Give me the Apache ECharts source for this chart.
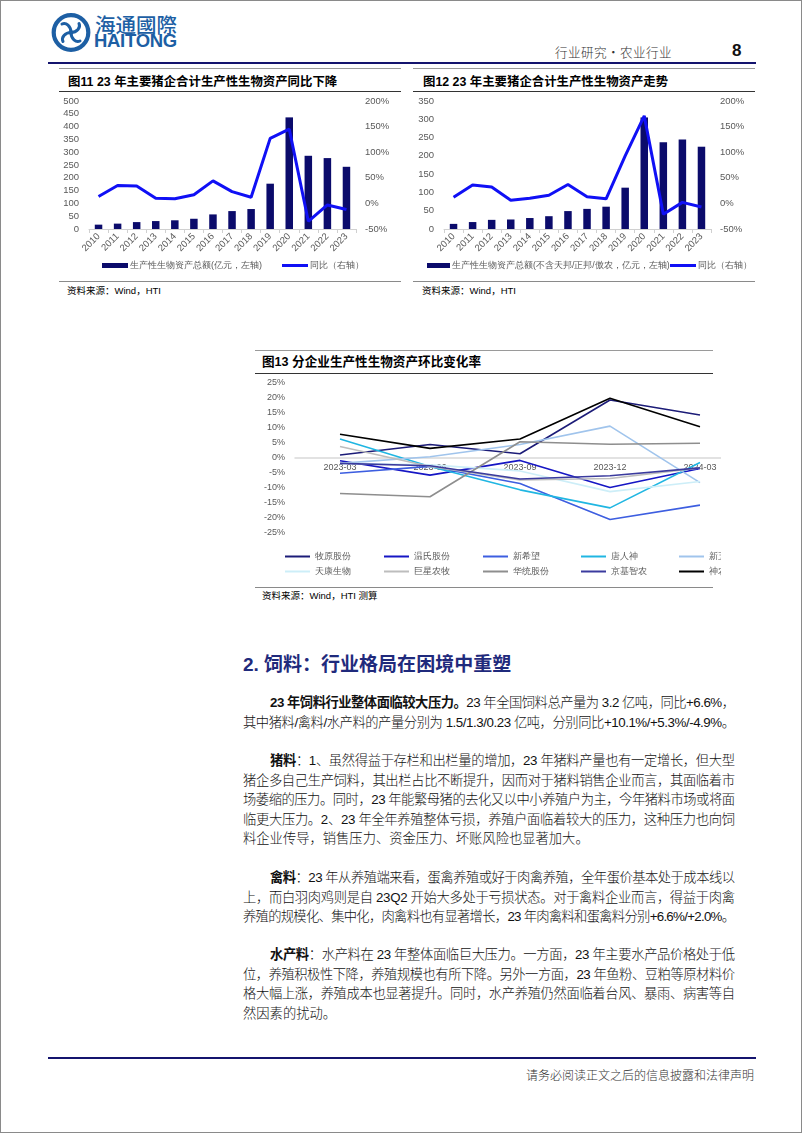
<!DOCTYPE html>
<html><head><meta charset="utf-8">
<script src="https://cdn.jsdelivr.net/npm/echarts@6/dist/echarts.min.js"></script>
<style>
body{margin:0;background:#fff;}
#page{position:relative;width:802px;height:1133px;overflow:hidden;background:#fff;font-family:"Noto Sans CJK SC",sans-serif;}
.abs{position:absolute;}
.frame{position:absolute;left:0;top:0;right:0;bottom:0;border:1px solid #8a8a8a;pointer-events:none;}
.hl{position:absolute;height:0;}
.title{position:absolute;font-weight:bold;font-size:12.4px;color:#000;white-space:nowrap;line-height:14px;font-family:"Liberation Sans","Noto Sans CJK SC",sans-serif;}
.src{position:absolute;font-size:9.5px;color:#000;white-space:nowrap;line-height:12px;font-family:"Liberation Sans","Noto Sans CJK SC",sans-serif;}
.para{position:absolute;left:243px;width:492px;font-size:13.3px;line-height:19.5px;color:#111;font-weight:300;font-family:"Liberation Sans","Noto Sans CJK SC",sans-serif;}
.ln{display:block;white-space:nowrap;height:19.5px;}
.ln.ind{padding-left:27px;}
.ln b{font-weight:bold;}
</style></head>
<body><div id="page">
<!-- header -->
<svg class="abs" style="left:50px;top:11px" width="44" height="44" viewBox="0 0 44 44">
  <circle cx="21" cy="21.5" r="17.3" fill="none" stroke="#1d5fa4" stroke-width="4.2"/>
  <g fill="none" stroke="#1d5fa4" stroke-width="3" stroke-linecap="round">
    <path d="M21 21.5 C21 15 16 11 12 13"/>
    <path d="M21 21.5 C27 21.5 31 16.5 29 12.5"/>
    <path d="M21 21.5 C21 28 26 32 30 30"/>
    <path d="M21 21.5 C15 21.5 11 26.5 13 30.5"/>
  </g>
  <circle cx="21" cy="21.5" r="2.2" fill="#1d5fa4"/>
</svg>
<div class="abs" style="left:95px;top:12px;font-size:20.5px;line-height:24px;color:#1d5fa4;font-weight:500;white-space:nowrap;">海通國際</div>
<div class="abs" style="left:94px;top:30px;font-size:18.5px;line-height:22px;color:#1d5fa4;font-weight:bold;font-family:'Liberation Sans',sans-serif;letter-spacing:-0.3px;">HAITONG</div>
<div class="abs" style="left:555px;top:43px;font-size:12.6px;line-height:17px;color:#333;white-space:nowrap;letter-spacing:0.4px;font-weight:300;">行业研究•农业行业</div>
<div class="abs" style="left:732px;top:41px;font-size:17px;line-height:20px;color:#111;font-weight:bold;font-family:'Liberation Sans',sans-serif;">8</div>
<div class="hl" style="left:48px;top:62px;width:708px;border-top:2.5px solid #14146e;"></div>

<!-- chart 1 frame -->
<div class="hl" style="left:59px;top:67.5px;width:342px;border-top:1px solid #9a9a9a;"></div>
<div class="title" style="left:68px;top:75px;">图11 23 年主要猪企合计生产性生物资产同比下降</div>
<div class="hl" style="left:59px;top:90.5px;width:342px;border-top:1px solid #333;"></div>
<div id="c1" class="abs" style="left:55px;top:92px;width:350px;height:188px;"></div>
<div class="hl" style="left:59px;top:280.5px;width:342px;border-top:1.2px solid #8a8a8a;"></div>
<div class="src" style="left:67px;top:285px;">资料来源：Wind，HTI</div>

<!-- chart 2 frame -->
<div class="hl" style="left:413px;top:67.5px;width:342px;border-top:1px solid #9a9a9a;"></div>
<div class="title" style="left:423px;top:75px;">图12 23 年主要猪企合计生产性生物资产走势</div>
<div class="hl" style="left:413px;top:90.5px;width:342px;border-top:1px solid #333;"></div>
<div id="c2" class="abs" style="left:410px;top:92px;width:350px;height:188px;"></div>
<div class="hl" style="left:413px;top:280.5px;width:342px;border-top:1.2px solid #8a8a8a;"></div>
<div class="src" style="left:422px;top:285px;">资料来源：Wind，HTI</div>

<!-- chart 3 frame -->
<div class="hl" style="left:255px;top:349.5px;width:458px;border-top:1px solid #9a9a9a;"></div>
<div class="title" style="left:262px;top:355px;font-size:12.6px;">图13 分企业生产性生物资产环比变化率</div>
<div class="hl" style="left:255px;top:373px;width:458px;border-top:1px solid #333;"></div>
<div class="abs" style="left:255px;top:374px;width:466px;height:212px;overflow:hidden;">
  <div id="c3" style="position:absolute;left:0;top:0;width:520px;height:212px;"></div>
</div>
<div class="hl" style="left:255px;top:587px;width:458px;border-top:1.2px solid #8a8a8a;"></div>
<div class="src" style="left:262px;top:590px;">资料来源：Wind，HTI 测算</div>

<!-- body text -->
<div class="abs" style="left:243px;top:652px;font-size:19px;line-height:26px;color:#1f2a7c;font-weight:bold;white-space:nowrap;font-family:'Liberation Sans','Noto Sans CJK SC',sans-serif;">2.&nbsp;饲料：行业格局在困境中重塑</div>

<div class="para" style="top:693.25px;">
  <span class="ln ind j"><span><b>23 年饲料行业整体面临较大压力。</b>23 年全国饲料总产量为 3.2 亿吨，同比+6.6%，</span></span>
  <span class="ln j"><span>其中猪料/禽料/水产料的产量分别为 1.5/1.3/0.23 亿吨，分别同比+10.1%/+5.3%/-4.9%。</span></span>
</div>
<div class="para" style="top:751.25px;">
  <span class="ln ind j"><span><b>猪料</b>：1、虽然得益于存栏和出栏量的增加，23 年猪料产量也有一定增长，但大型</span></span>
  <span class="ln j"><span>猪企多自己生产饲料，其出栏占比不断提升，因而对于猪料销售企业而言，其面临着市</span></span>
  <span class="ln j"><span>场萎缩的压力。同时，23 年能繁母猪的去化又以中小养殖户为主，今年猪料市场或将面</span></span>
  <span class="ln j"><span>临更大压力。2、23 年全年养殖整体亏损，养殖户面临着较大的压力，这种压力也向饲</span></span>
  <span class="ln"><span>料企业传导，销售压力、资金压力、坏账风险也显著加大。</span></span>
</div>
<div class="para" style="top:868px;">
  <span class="ln ind j"><span><b>禽料</b>：23 年从养殖端来看，蛋禽养殖或好于肉禽养殖，全年蛋价基本处于成本线以</span></span>
  <span class="ln j"><span>上，而白羽肉鸡则是自 23Q2 开始大多处于亏损状态。对于禽料企业而言，得益于肉禽</span></span>
  <span class="ln j"><span>养殖的规模化、集中化，肉禽料也有显著增长，23 年肉禽料和蛋禽料分别+6.6%/+2.0%。</span></span>
</div>
<div class="para" style="top:945.25px;">
  <span class="ln ind j"><span><b>水产料</b>：水产料在 23 年整体面临巨大压力。一方面，23 年主要水产品价格处于低</span></span>
  <span class="ln j"><span>位，养殖积极性下降，养殖规模也有所下降。另外一方面，23 年鱼粉、豆粕等原材料价</span></span>
  <span class="ln j"><span>格大幅上涨，养殖成本也显著提升。同时，水产养殖仍然面临着台风、暴雨、病害等自</span></span>
  <span class="ln"><span>然因素的扰动。</span></span>
</div>

<!-- footer -->
<div class="hl" style="left:48px;top:1057px;width:708px;border-top:2.5px solid #14146e;"></div>
<div class="abs" style="right:48px;top:1067px;font-size:12px;line-height:16px;color:#333;white-space:nowrap;font-weight:300;">请务必阅读正文之后的信息披露和法律声明</div>
<div class="frame"></div>
</div>

<script>
// ---------- data ----------
const years = ['2010','2011','2012','2013','2014','2015','2016','2017','2018','2019','2020','2021','2022','2023'];
const assets1 = [17, 21, 27, 31, 34, 40, 57, 70, 78, 177, 436, 286, 277, 243];
const yoy1 = [13.6, 35, 34, 10, 9, 17, 44, 23, 12, 127, 145, -35, -3, -12];
const assets2 = [14, 19, 25, 26, 30, 35, 49, 55, 61, 113, 305, 237, 245, 225];
const yoy2 = [12, 36, 32, 6, 10, 16, 37, 13, 9, 93, 171, -21, 2, -7];
const barName1 = '生产性生物资产总额(亿元，左轴)';
const barName2 = '生产性生物资产总额(不含天邦/正邦/傲农，亿元，左轴)';
const lineName = '同比（右轴）';

const quarters = ['2023-03','2023-06','2023-09','2023-12','2024-03'];
const companies = ['牧原股份','温氏股份','新希望','唐人神','新五丰','天康生物','巨星农牧','华统股份','京基智农','神农集团'];
const muyuan   = [0.8, 4.3, 1.2, 19.1, 14.1];
const wens     = [-1.1, -5.9, -1.0, -10.0, -3.7];
const xinxiwang= [-5.3, -3.0, -8.7, -20.7, -15.9];
const tangrenshen=[6.1, -3.0, -10.8, -16.8, -1.7];
const xinwufeng= [-2.0, 0.2, 4.3, 10.4, -8.4];
const tiankang = [-2.0, -2.5, -4.5, -11.4, -8.0];
const juxing   = [3.6, -3.0, -7.5, -7.0, -3.5];
const huatong  = [-12.0, -13.1, 5.2, 4.4, 4.7];
const jingji   = [-2.0, -2.8, -7.2, -6.1, -3.5];
const shennong = [7.7, 3.0, 6.1, 19.7, 10.2];
const compValues = [muyuan, wens, xinxiwang, tangrenshen, xinwufeng, tiankang, juxing, huatong, jingji, shennong];
const compColors = ['#1c1c78','#1616c4','#3d5ee0','#20b6e2','#a0c4ec','#cdeef8','#bdbdbd','#8e8e8e','#3b3b9e','#000000'];
const pctMin = -25, pctMax = 25, pctStep = 5;

// ---------- text justification ----------
document.querySelectorAll('.ln.j').forEach(ln => {
  const inner = ln.firstElementChild;
  inner.style.display = 'inline-block';
  const target = ln.clientWidth - (ln.classList.contains('ind') ? 27 : 0);
  const w = inner.getBoundingClientRect().width;
  const n = inner.textContent.length;
  if (n > 1) inner.style.letterSpacing = ((target - w) / (n - 1)) + 'px';
});

// ---------- charts ----------
const axisFont = 'Liberation Sans';
function barLineChart(el, assets, yoy, leftMax, barName, barLegendLeft, barIconW, lineLegendLeft, legendFont) {
  const c = echarts.init(el);
  c.setOption({
    animation: false,
    grid: { left: 34, right: 49, top: 9, height: 128 },
    legend: [
      { data: [barName], left: barLegendLeft, top: 164, itemWidth: barIconW, itemHeight: 5, icon: 'rect', itemGap: 0,
        textStyle: { color: '#595959', fontSize: legendFont, padding: [0, 0, 0, -3] } },
      { data: [lineName], left: lineLegendLeft, top: 164, itemWidth: 26, itemHeight: 3, icon: 'rect', itemGap: 0,
        textStyle: { color: '#595959', fontSize: legendFont, padding: [0, 0, 0, -3] } }
    ],
    xAxis: {
      type: 'category', data: years, boundaryGap: true,
      axisLine: { lineStyle: { color: '#d0d0d0', width: 1 } },
      axisTick: { show: true, length: 4, lineStyle: { color: '#d0d0d0' } },
      axisLabel: { rotate: 45, color: '#595959', fontSize: 9.5, fontFamily: axisFont, margin: 6, interval: 0 }
    },
    yAxis: [
      { type: 'value', min: 0, max: leftMax, interval: 50, splitLine: { show: false },
        axisLine: { show: false }, axisTick: { show: false },
        axisLabel: { color: '#595959', fontSize: 9.5, fontFamily: axisFont, margin: 10 } },
      { type: 'value', min: -50, max: 200, interval: 50, splitLine: { show: false },
        axisLine: { show: false }, axisTick: { show: false },
        axisLabel: { formatter: '{value}%', color: '#595959', fontSize: 9.5, fontFamily: axisFont, margin: 9 } }
    ],
    series: [
      { type: 'bar', name: barName, data: assets, barWidth: 7.5, itemStyle: { color: '#0b0b6b' } },
      { type: 'line', name: lineName, yAxisIndex: 1, data: yoy, symbol: 'none', z: 5,
        lineStyle: { width: 3, color: '#1010f5' }, itemStyle: { color: '#1010f5' } }
    ]
  });
}
barLineChart(document.getElementById('c1'), assets1, yoy1, 500, barName1, 42, 26, 222, 9);
barLineChart(document.getElementById('c2'), assets2, yoy2, 350, barName2, 12, 23, 255, 8.7);

// chart 3
(function(){
  const c = echarts.init(document.getElementById('c3'));
  const gridH = 150.2;
  const legendX = [25, 124, 223, 321, 419];
  const legends = companies.map((name, i) => ({
    data: [name], left: legendX[i % 5], top: i < 5 ? 173 : 188,
    itemWidth: 25, itemHeight: 2, icon: 'rect',
    textStyle: { color: '#595959', fontSize: 9 }
  }));
  c.setOption({
    animation: false,
    grid: { left: 40, right: 30, top: 8.3, height: gridH },
    legend: legends,
    xAxis: {
      type: 'category', data: quarters, boundaryGap: true,
      offset: -gridH * (0 - pctMin) / (pctMax - pctMin),
      axisLine: { onZero: false, lineStyle: { color: '#d9d9d9', width: 1.5 } },
      axisTick: { show: false },
      axisLabel: { color: '#595959', fontSize: 9, fontFamily: axisFont, margin: 6 }
    },
    yAxis: {
      type: 'value', min: pctMin, max: pctMax, interval: pctStep, splitLine: { show: false },
      axisLine: { show: false }, axisTick: { show: false },
      axisLabel: { formatter: '{value}%', color: '#595959', fontSize: 9, fontFamily: axisFont, margin: 10 }
    },
    series: companies.map((name, i) => ({
      type: 'line', name: name, data: compValues[i], symbol: 'none', z: 3,
      lineStyle: { width: 1.6, color: compColors[i] }, itemStyle: { color: compColors[i] }
    }))
  });
})();
</script>
</body></html>
